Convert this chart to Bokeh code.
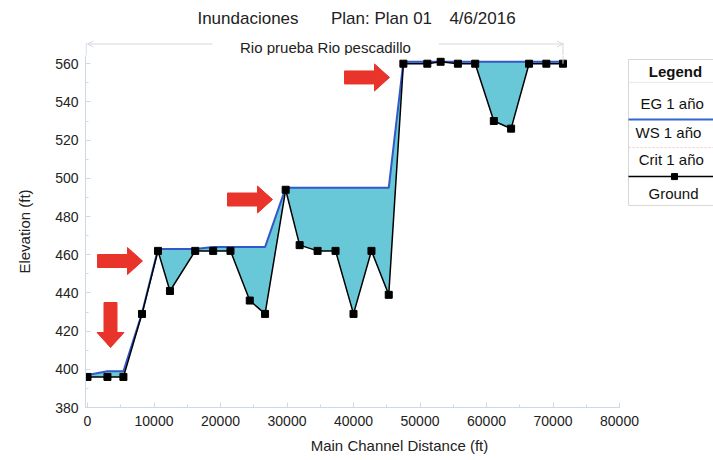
from bokeh.plotting import figure
from bokeh.layouts import column
from bokeh.models import Range1d, SingleIntervalTicker, Arrow, OpenHead
from bokeh.core.properties import value
from bokeh.embed import file_html
from bokeh.resources import INLINE

# ---------------- data ----------------
station = [0, 3000, 5400, 8200, 10600, 12400, 16200, 18900, 21500, 24400, 26700,
           29800, 31900, 34600, 37300, 40000, 42700, 45300, 47500, 51100, 53100,
           55700, 58300, 61100, 63700, 66400, 69000, 71500]
ground = [396, 396, 396, 429, 462, 441, 462, 462, 462, 436, 429,
          494, 465, 462, 462, 429, 462, 439, 560, 560, 561,
          560, 560, 530, 526, 560, 560, 560]
ws_1 = [397, 399, 399, 429.5, 463, 463, 463, 464, 464, 464, 464,
        495, 495, 495, 495, 495, 495, 495, 561, 561, 561,
        561, 561, 561, 561, 561, 561, 561]

title_parts = ["Inundaciones", "Plan: Plan 01", "4/6/2016"]
river_name = "Rio prueba Rio pescadillo"
legend_rows = ["EG  1 año", "WS  1 año", "Crit  1 año", "Ground"]
x_label = "Main Channel Distance (ft)"
y_label = "Elevation (ft)"

# ---------------- layout ----------------
W = 713
TOP_H = 55          # header strip (titles)
MAIN_H = 405        # main chart
MB_L, MB_B = 85, 53
frame_w = W - MB_L
frame_h = MAIN_H - MB_B
DX = 1 / 0.00665     # data units per pixel (x)
DY = 1 / 1.91        # data units per pixel (y)
x0 = -2 * DX
y0 = 380.0
x1 = x0 + frame_w * DX
y1 = y0 + frame_h * DY
xr = Range1d(x0, x1)

FONT = value("Liberation Sans")
gray = "#d3d9df"
axis_col = "#cdd9e5"

# ---------------- header strip ----------------
top = figure(width=W, height=TOP_H, output_backend="svg", toolbar_location=None,
             x_range=xr, y_range=Range1d(y1, y1 + TOP_H * DY),
             min_border_left=MB_L, min_border_right=0, min_border_top=0,
             min_border_bottom=0)
top.axis.visible = False
top.grid.visible = False
top.outline_line_color = None

title_x = [24135, 44210, 59398]
top.text(x=title_x, y=[583.7] * 3, text=title_parts, text_font=FONT,
         text_font_size="17px", text_align="center", text_baseline="middle",
         text_color="#222222")
top.text(x=[35789], y=[568.3], text=[river_name], text_font=FONT,
         text_font_size="15px", text_align="center", text_baseline="middle",
         text_color="#222222")
top.add_layout(Arrow(end=OpenHead(size=6, line_color=gray, line_width=1),
                     x_start=18800, y_start=570.3, x_end=0, y_end=570.3,
                     line_color=gray, line_width=1))
top.add_layout(Arrow(end=OpenHead(size=6, line_color=gray, line_width=1),
                     x_start=52800, y_start=570.3, x_end=71500, y_end=570.3,
                     line_color=gray, line_width=1))
top.segment(x0=[71500], y0=[571], x1=[71500], y1=[y1 - 1], line_color=gray, line_width=1)
top.segment(x0=[x0 + 0.6 * DX], y0=[571], x1=[x0 + 0.6 * DX], y1=[y1 - 1],
            line_color=axis_col, line_width=1)

# ---------------- main chart ----------------
p = figure(width=W, height=MAIN_H, output_backend="svg", toolbar_location=None,
           x_range=xr, y_range=Range1d(y0, y1),
           min_border_left=MB_L, min_border_bottom=MB_B,
           min_border_top=0, min_border_right=0)
p.outline_line_color = None
p.xgrid.visible = False
p.ygrid.visible = False
p.background_fill_color = "white"

for ax in (p.xaxis[0], p.yaxis[0]):
    ax.axis_line_color = axis_col
    ax.major_tick_line_color = axis_col
    ax.minor_tick_line_color = axis_col
    ax.major_tick_in = 5
    ax.major_tick_out = 0
    ax.minor_tick_in = 3
    ax.minor_tick_out = 0
    ax.major_label_text_font = "Liberation Sans"
    ax.major_label_text_font_size = "14px"
    ax.major_label_text_color = "#222222"
    ax.axis_label_text_font = "Liberation Sans"
    ax.axis_label_text_font_size = "15px"
    ax.axis_label_text_font_style = "normal"
    ax.axis_label_text_color = "#222222"

p.xaxis[0].ticker = SingleIntervalTicker(interval=10000, num_minor_ticks=2)
p.yaxis[0].ticker = SingleIntervalTicker(interval=20, num_minor_ticks=2)
p.xaxis[0].bounds = (0, 80000)
p.yaxis[0].bounds = (380, 571)
p.xaxis[0].axis_label = x_label
p.yaxis[0].axis_label = y_label
p.xaxis[0].major_label_standoff = 8
p.xaxis[0].axis_label_standoff = 8
p.yaxis[0].major_label_standoff = 7
p.yaxis[0].axis_label_standoff = 19

# data marks
p.varea(x=station, y1=ground, y2=ws_1, fill_color="#68c8d8", fill_alpha=1.0)
p.line(station, ws_1, line_color="#3358c8", line_width=2)
p.line(station, ground, line_color="black", line_width=1.5)
p.scatter(station, ground, marker="square", size=7, fill_color="black", line_color="black")

# river-end marker line
p.segment(x0=[71500], y0=[y1], x1=[71500], y1=[560], line_color=gray, line_width=1)

# red arrows (annotations)
arrow_tips = [(3459, 411.4, "down"), (8271, 456.7, "right"),
              (27820, 488.9, "right"), (45414, 552.8, "right")]


def arrow_poly(tx, ty, direction, length=45, shaft=13, head_w=27, head_len=15):
    pts = [(0, 0), (-head_len, head_w / 2), (-head_len, shaft / 2), (-length, shaft / 2),
           (-length, -shaft / 2), (-head_len, -shaft / 2), (-head_len, -head_w / 2)]
    if direction == "right":
        return [tx + u * DX for u, v in pts], [ty + v * DY for u, v in pts]
    return [tx + v * DX for u, v in pts], [ty - u * DY for u, v in pts]


axs, ays = [], []
for tx, ty, d in arrow_tips:
    a, b = arrow_poly(tx, ty, d)
    axs.append(a)
    ays.append(b)
p.patches(axs, ays, fill_color="#e8342a", line_color="#e8342a", line_width=1)

# legend box
lx0, lx1 = 81350, 96000
p.quad(left=[lx0], right=[lx1], top=[562.2], bottom=[485.8],
       fill_color="white", line_color="#d6d6d6", line_width=1)
p.segment(x0=[lx0], y0=[550.2], x1=[lx1], y1=[550.2], line_color="#e4eaf0", line_width=1)
p.text(x=[88421], y=[555.9], text=["Legend"], text_font=FONT, text_font_size="15px",
       text_font_style="bold", text_align="center", text_baseline="middle",
       text_color="#111111")
p.text(x=[83158, 82406, 82900], y=[539.2, 524.0, 509.8], text=legend_rows[:3],
       text_font=FONT, text_font_size="15px", text_align="left",
       text_baseline="middle", text_color="#111111")
p.text(x=[88120], y=[492.0], text=[legend_rows[3]], text_font=FONT,
       text_font_size="15px", text_align="center", text_baseline="middle",
       text_color="#111111")
p.segment(x0=[lx0], y0=[530.8], x1=[lx1], y1=[530.8], line_color="#3366cc", line_width=2)
p.segment(x0=[lx0], y0=[516.1], x1=[lx1], y1=[516.1], line_color="#f0c8c8",
          line_width=1, line_dash="2 2")
p.segment(x0=[lx0], y0=[500.9], x1=[lx1], y1=[500.9], line_color="black", line_width=1.5)
p.scatter([88271], [500.9], marker="square", size=6, fill_color="black", line_color="black")

layout = column(top, p, spacing=0)
open("out.html", "w").write(file_html(layout, INLINE))
